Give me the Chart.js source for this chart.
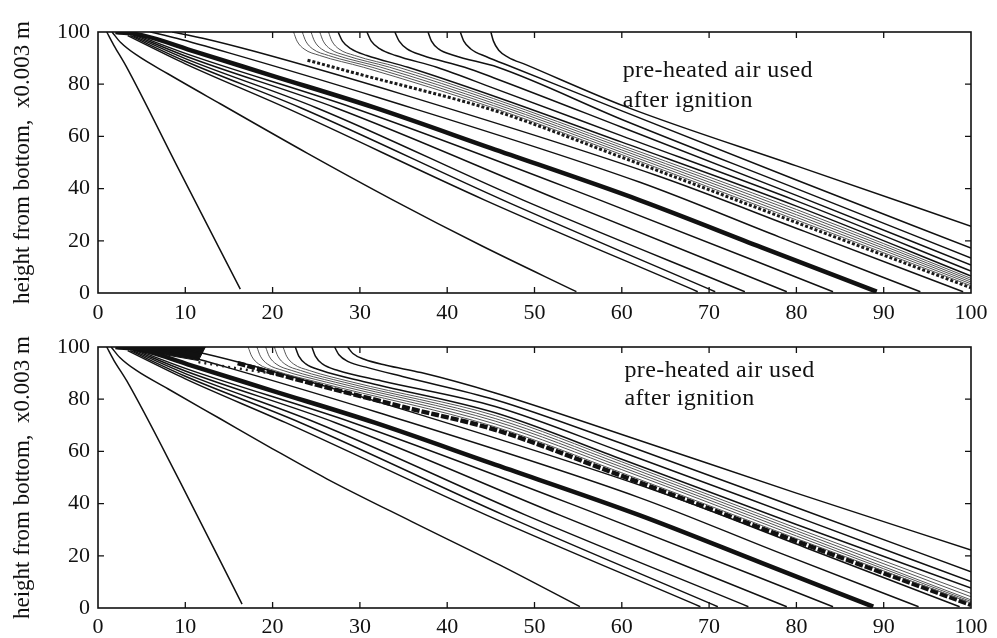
<!DOCTYPE html>
<html>
<head>
<meta charset="utf-8">
<script src="https://cdn.jsdelivr.net/npm/chart.js@4.4.1/dist/chart.umd.min.js"></script>
<style>
  html, body { margin: 0; padding: 0; background: #fff; }
  #wrap { position: relative; width: 997px; height: 638px; overflow: hidden; background: #fff; }
  .panel { position: absolute; left: 0; width: 997px; }
  #upper { top: 0; height: 325px; }
  #lower { top: 325px; height: 313px; }
</style>
</head>
<body>
<div id="wrap">
  <div class="panel" id="upper"><canvas id="upperCanvas"></canvas></div>
  <div class="panel" id="lower"><canvas id="lowerCanvas"></canvas></div>
</div>
<script>
// ---- axis ticks and labels ----
const xTicks = [0, 10, 20, 30, 40, 50, 60, 70, 80, 90, 100];
const yTicks = [0, 20, 40, 60, 80, 100];
const yAxisTitle = 'height from bottom,  x0.003 m';
const noteLines = ['pre-heated air used', 'after ignition'];

// ---- upper panel: front positions (x, height) ----
const upperSteepFront = [[1.0,100],[1.8,95],[3.2,87],[9,49],[16.3,1.5]];
const upperSecondFront = [[1.6,100],[2.6,96],[4.5,91],[8,84],[14,72.5],[24,53.5],[33.8,35.6],[44,18],[54.8,0.5]];
const upperLowerFan = [
  [[3.4,98.6],[10,87.8],[21.5,71],[44.3,35.6],[68.7,0.5]],
  [[3.7,98.6],[10,88.8],[23.2,71],[46.4,35.6],[70.7,0.5]],
  [[4.0,98.6],[10,89.8],[25.0,71],[48.7,35.6],[74.1,0.5]],
  [[4.3,98.6],[10,90.8],[27.2,71],[52.9,35.6],[78.9,0.5]],
  [[4.6,98.6],[10,91.8],[29.2,71],[57.5,35.6],[84.2,0.5]]
];
const upperMainFront = [[2.0,100],[5,98.8],[11.1,92.5],[20,83.2],[31.7,71],[45,55.5],[62,35.6],[76,17.5],[89.2,0.5]];
const upperNearFronts = [
  [[6,100],[9,97.6],[15,92],[32,75],[62,42.5],[78,21.5],[94.2,0.5]],
  [[8.5,100],[12,97.6],[18,92.5],[35,76],[64,45],[81,23.5],[99.1,0.5]]
];
const upperDottedFront = [[24.0,89.2],[29.4,84.3],[45.3,70],[60,52],[80,27],[100,2.0]];
const upperThinFan = [
  [[22.4,100],[22.8,96.5],[23.6,93.5],[25.4,91],[30.4,86.5],[45.3,70.9],[60,53.0],[80,28.0],[100,2.8]],
  [[23.4,100],[23.8,96.5],[24.6,93.5],[26.4,91],[31.4,86.5],[45.3,71.8],[60,53.9],[80,29.0],[100,3.5]],
  [[24.4,100],[24.8,96.5],[25.6,93.5],[27.4,91],[32.4,86.5],[45.3,72.7],[60,54.8],[80,30.0],[100,4.2]],
  [[25.4,100],[25.8,96.5],[26.6,93.5],[28.4,91],[33.4,86.5],[45.3,73.6],[60,55.7],[80,31.0],[100,4.9]],
  [[26.4,100],[26.8,96.5],[27.6,93.5],[29.4,91],[34.4,86.5],[45.3,74.5],[60,56.6],[80,32.0],[100,5.6]]
];
const upperOuterFan = [
  [[27.5,100],[28.0,96.5],[29.0,93.5],[30.8,91],[35.5,86.5],[45.3,75.5],[60,57.8],[80,33.3],[100,6.5]],
  [[30.8,100],[31.3,96.5],[32.3,93.5],[34.1,91],[38.8,86.5],[45.3,78.5],[60,60.2],[80,35.3],[100,8.4]],
  [[34.0,100],[34.5,96.5],[35.4,93.5],[37.2,91],[42.0,86.5],[45.3,82.5],[60,63.5],[80,37.4],[100,10.7]],
  [[37.8,100],[38.2,96.5],[39.0,93.5],[40.8,91],[45.8,86.5],[60,66.5],[80,40.0],[100,13.4]],
  [[41.5,100],[41.9,96.5],[42.7,93.5],[44.5,90.5],[47.5,86.5],[60,69.8],[80,43.3],[100,17.2]],
  [[45.0,100],[45.3,96.5],[45.9,93],[47,90.3],[49,87.5],[60.5,71.3],[80,48.7],[100,25.6]]
];

// ---- lower panel: front positions (x, height) ----
const lowerSteepFront = [[1.0,100],[1.8,95],[3.3,87],[9.3,49],[16.5,1.5]];
const lowerSecondFront = [[1.5,100],[2.5,96],[4.4,91],[8,84],[14,72.5],[20,61],[26.2,49.5],[36,33],[46,16.5],[55.2,0.5]];
const lowerLowerFan = [
  [[3.4,98.6],[10,87.8],[21.5,71],[44.5,35.6],[69.0,0.5]],
  [[3.7,98.6],[10,88.8],[23.2,71],[46.5,35.6],[71.0,0.5]],
  [[4.0,98.6],[10,89.8],[25.0,71],[49.0,35.6],[74.5,0.5]],
  [[4.3,98.6],[10,90.8],[27.2,71],[52.9,35.6],[78.9,0.5]],
  [[4.6,98.6],[10,91.8],[29.2,71],[57.5,35.6],[84.2,0.5]]
];
const lowerMainFront = [[2.0,100],[5,98.8],[11.1,92.5],[20,83.2],[31.7,71],[45,55.5],[62,35.6],[76,17.3],[88.8,0.5]];
const lowerWedge = [[3.5,100],[12.3,100],[11.5,94.8],[5,98.6]];
const lowerNearFronts = [
  [[6,100],[9,97.6],[15,92],[32,75],[62,42.3],[78,21.2],[94.0,0.5]],
  [[8.5,100],[12,97.6],[18,92.5],[35,76],[64,44.8],[81,23.2],[98.7,0.5]]
];
const lowerSpeckleRow = [[11.5,94.2],[16,91.8],[21,89.3]];
const lowerDottedFront = [[16,93.8],[25,85.6],[35,77.0],[45.5,68.3],[60,50.6],[80,25.6],[100,1.2]];
const lowerThinFan = [
  [[17.2,100],[17.6,96.5],[18.4,93.5],[20.2,91],[25.2,86.5],[45.5,69.4],[60,51.8],[80,26.6],[100,1.9]],
  [[18.2,100],[18.6,96.5],[19.4,93.5],[21.2,91],[26.2,86.5],[45.5,70.5],[60,53.0],[80,27.6],[100,2.5]],
  [[19.2,100],[19.6,96.5],[20.4,93.5],[22.2,91],[27.2,86.5],[45.5,71.6],[60,54.0],[80,28.6],[100,3.1]],
  [[20.2,100],[20.6,96.5],[21.4,93.5],[23.2,91],[28.2,86.5],[45.5,72.6],[60,55.0],[80,29.6],[100,4.3]],
  [[21.2,100],[21.6,96.5],[22.4,93.5],[24.2,91],[29.2,86.5],[45.5,73.7],[60,56.0],[80,30.6],[100,5.6]]
];
const lowerOuterFan = [
  [[22.6,100],[23.0,96.5],[23.8,93.5],[25.6,91],[30.6,86.6],[45.5,74.8],[60,57],[80,32],[100,7.6]],
  [[24.5,100],[24.9,96.5],[25.7,93.5],[27.5,91],[32.5,87],[45.5,77.2],[60,59.8],[80,35],[100,10.1]],
  [[27.1,100],[27.6,97],[28.6,94.5],[31,92],[35.1,88.5],[45.5,79.8],[60,63],[80,38.5],[100,13.9]],
  [[28.6,100],[29.2,97.5],[30.5,95.3],[33,93],[37,90.2],[45.5,82.4],[60,66.5],[80,44],[100,22.2]]
];

// ---- styling ----
const SERIF = '"Liberation Serif", "Times New Roman", serif';
const INK = '#111';

function toPoints(pairs) {
  return pairs.map(([x, y]) => ({ x, y }));
}
function series(pairs, style) {
  return Object.assign({
    data: toPoints(pairs),
    borderColor: INK,
    borderWidth: 1.5,
    pointRadius: 0,
    fill: false,
    cubicInterpolationMode: 'monotone'
  }, style || {});
}

function upperDatasets() {
  const d = [];
  upperThinFan.forEach(p => d.push(series(p, { borderColor: '#555', borderWidth: 1.0 })));
  d.push(series(upperDottedFront, { borderColor: '#1a1a1a', borderWidth: 3, borderDash: [3, 2] }));
  upperOuterFan.forEach(p => d.push(series(p)));
  upperNearFronts.forEach(p => d.push(series(p)));
  upperLowerFan.forEach(p => d.push(series(p)));
  d.push(series(upperSecondFront));
  d.push(series(upperSteepFront));
  d.push(series(upperMainFront, { borderWidth: 4.5 }));
  return d;
}
function lowerDatasets() {
  const d = [];
  lowerThinFan.forEach(p => d.push(series(p, { borderColor: '#555', borderWidth: 1.0 })));
  d.push(series(lowerDottedFront, { borderColor: '#111', borderWidth: 4.5, borderDash: [8, 2] }));
  d.push(series(lowerSpeckleRow, { borderColor: '#222', borderWidth: 2.5, borderDash: [2, 4] }));
  lowerOuterFan.forEach(p => d.push(series(p)));
  lowerNearFronts.forEach(p => d.push(series(p)));
  lowerLowerFan.forEach(p => d.push(series(p)));
  d.push(series(lowerSecondFront));
  d.push(series(lowerSteepFront));
  d.push(series(lowerMainFront, { borderWidth: 4.5 }));
  d.push(series(lowerWedge, { cubicInterpolationMode: 'default', tension: 0, fill: 'shape', backgroundColor: INK, borderWidth: 1 }));
  return d;
}

// frame around the plot with inward tick marks on all four sides
const framePlugin = {
  id: 'frame',
  afterDatasetsDraw(chart) {
    const { ctx } = chart;
    const xs = chart.scales.x, ys = chart.scales.y;
    const l = xs.getPixelForValue(0), r = xs.getPixelForValue(100);
    const t = ys.getPixelForValue(100), b = ys.getPixelForValue(0);
    const len = 6;
    ctx.save();
    ctx.strokeStyle = INK;
    ctx.lineWidth = 1.6;
    ctx.strokeRect(l, t, r - l, b - t);
    ctx.lineWidth = 1.3;
    ctx.beginPath();
    xTicks.slice(1, -1).forEach(v => {
      const px = xs.getPixelForValue(v);
      ctx.moveTo(px, b); ctx.lineTo(px, b - len);
      ctx.moveTo(px, t); ctx.lineTo(px, t + len);
    });
    yTicks.slice(1, -1).forEach(v => {
      const py = ys.getPixelForValue(v);
      ctx.moveTo(l, py); ctx.lineTo(l + len, py);
      ctx.moveTo(r, py); ctx.lineTo(r - len, py);
    });
    ctx.stroke();
    ctx.restore();
  }
};

// two-line note placed in data coordinates
function notePlugin(xVal, yFirst, ySecond) {
  return {
    id: 'note',
    afterDatasetsDraw(chart) {
      const { ctx } = chart;
      const xs = chart.scales.x, ys = chart.scales.y;
      ctx.save();
      ctx.fillStyle = INK;
      ctx.font = '24px ' + SERIF;
      ctx.textBaseline = 'alphabetic';
      ctx.textAlign = 'left';
      if ('letterSpacing' in ctx) ctx.letterSpacing = '0.4px';
      ctx.fillText(noteLines[0], xs.getPixelForValue(xVal), ys.getPixelForValue(yFirst));
      ctx.fillText(noteLines[1], xs.getPixelForValue(xVal), ys.getPixelForValue(ySecond));
      ctx.restore();
    }
  };
}

function buildChart(canvasId, datasets, cfg) {
  return new Chart(document.getElementById(canvasId), {
    type: 'line',
    data: { datasets },
    options: {
      responsive: true,
      maintainAspectRatio: false,
      animation: false,
      devicePixelRatio: 1,
      layout: { padding: { top: cfg.padTop, right: 26, left: 0, bottom: 0 } },
      plugins: { legend: { display: false }, tooltip: { enabled: false }, title: { display: false } },
      scales: {
        x: {
          type: 'linear', min: 0, max: 100,
          afterBuildTicks: s => { s.ticks = xTicks.map(v => ({ value: v })); },
          ticks: { font: { family: SERIF, size: 22 }, color: INK, padding: cfg.xPad, maxRotation: 0, autoSkip: false },
          grid: { display: false, drawTicks: false },
          border: { display: false },
          afterFit: s => { s.height = cfg.xAxisHeight; }
        },
        y: {
          type: 'linear', min: 0, max: 100,
          afterBuildTicks: s => { s.ticks = yTicks.map(v => ({ value: v })); },
          ticks: { font: { family: SERIF, size: 22 }, color: INK, padding: 8, autoSkip: false },
          grid: { display: false, drawTicks: false },
          border: { display: false },
          title: { display: true, text: yAxisTitle, color: INK, font: { family: SERIF, size: 23 }, padding: { top: 9, bottom: 0 } },
          afterFit: s => { s.width = 98; }
        }
      }
    },
    plugins: [framePlugin, notePlugin(cfg.noteX, cfg.noteY1, cfg.noteY2)]
  });
}

buildChart('upperCanvas', upperDatasets(), { padTop: 32, xAxisHeight: 32, xPad: 7, noteX: 60.1, noteY1: 82.8, noteY2: 71.3 });
buildChart('lowerCanvas', lowerDatasets(), { padTop: 22, xAxisHeight: 30, xPad: 6, noteX: 60.3, noteY1: 88.5, noteY2: 77.8 });
</script>
</body>
</html>
